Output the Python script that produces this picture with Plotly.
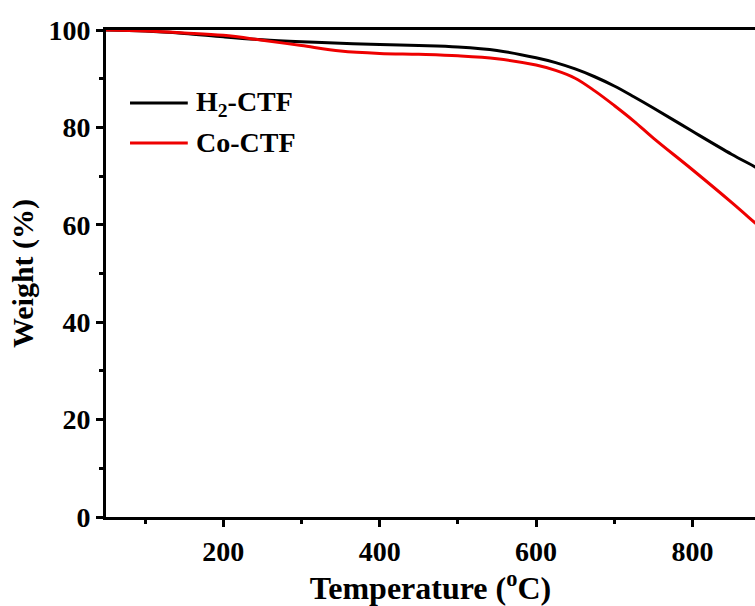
import plotly.graph_objects as go

temperature = [50, 100, 150, 200, 250, 300, 350, 400, 450, 500, 550, 600, 625, 650, 675, 700, 725, 750, 800, 850, 880, 900]
h2_ctf = [100.0, 99.8, 99.3, 98.6, 98.0, 97.6, 97.3, 97.0, 96.8, 96.5, 95.8, 94.3, 93.3, 92.0, 90.4, 88.5, 86.3, 84.0, 79.2, 74.5, 71.9, 70.1]
co_ctf = [100.0, 99.8, 99.4, 98.9, 97.9, 96.8, 95.7, 95.2, 95.0, 94.7, 94.1, 92.8, 91.7, 90.1, 87.5, 84.5, 81.3, 77.8, 71.3, 64.6, 60.4, 57.6]

series_names = ["H<sub>2</sub>-CTF", "Co-CTF"]
series_colors = ["black", "#ee0000"]

x_ticks = [200, 400, 600, 800]
y_ticks = [0, 20, 40, 60, 80, 100]

font_family = "Liberation Serif"

fig = go.Figure()
for name, ys, col in zip(series_names, [h2_ctf, co_ctf], series_colors):
    fig.add_trace(go.Scatter(x=temperature, y=ys, mode="lines", name=name,
                             line=dict(color=col, width=3, shape="spline", smoothing=1.0), showlegend=False))

# legend drawn manually (long line samples as in the reference)
legend_y = [0.850, 0.768]
for name, col, ly in zip(series_names, series_colors, legend_y):
    fig.add_shape(type="line", xref="paper", yref="paper", x0=0.037, x1=0.126, y0=ly, y1=ly,
                  line=dict(color=col, width=3))
    fig.add_annotation(xref="paper", yref="paper", x=0.136, y=ly, xanchor="left", yanchor="middle",
                       text=name, showarrow=False,
                       font=dict(size=28, family=font_family, weight="bold", color="black"))

fig.update_layout(
    width=755, height=606,
    margin=dict(l=106, r=0, t=30, b=89),
    paper_bgcolor="white", plot_bgcolor="white",
    font=dict(family=font_family, color="black"),
    showlegend=False,
    xaxis=dict(
        range=[50, 880], tickmode="array", tickvals=x_ticks,
        showgrid=False, zeroline=False,
        showline=True, linecolor="black", linewidth=3, mirror=True,
        ticks="outside", ticklen=7, tickwidth=3, tickcolor="black",
        minor=dict(dtick=100, tick0=0, ticks="outside", ticklen=4, tickwidth=3, tickcolor="black", showgrid=False),
        tickfont=dict(size=28, family=font_family, weight="bold"),
        title=dict(text="Temperature (<sup>o</sup>C)", font=dict(size=32, family=font_family, weight="bold"), standoff=10),
    ),
    yaxis=dict(
        range=[0, 100], tickmode="array", tickvals=y_ticks,
        showgrid=False, zeroline=False,
        showline=True, linecolor="black", linewidth=3, mirror=False,
        ticks="outside", ticklen=7, tickwidth=3, tickcolor="black",
        minor=dict(dtick=10, tick0=0, ticks="outside", ticklen=4, tickwidth=3, tickcolor="black", showgrid=False),
        tickfont=dict(size=28, family=font_family, weight="bold"),
        title=dict(text="Weight (%)", font=dict(size=30, family=font_family, weight="bold"), standoff=6),
    ),
)

fig.write_html("out.html")
